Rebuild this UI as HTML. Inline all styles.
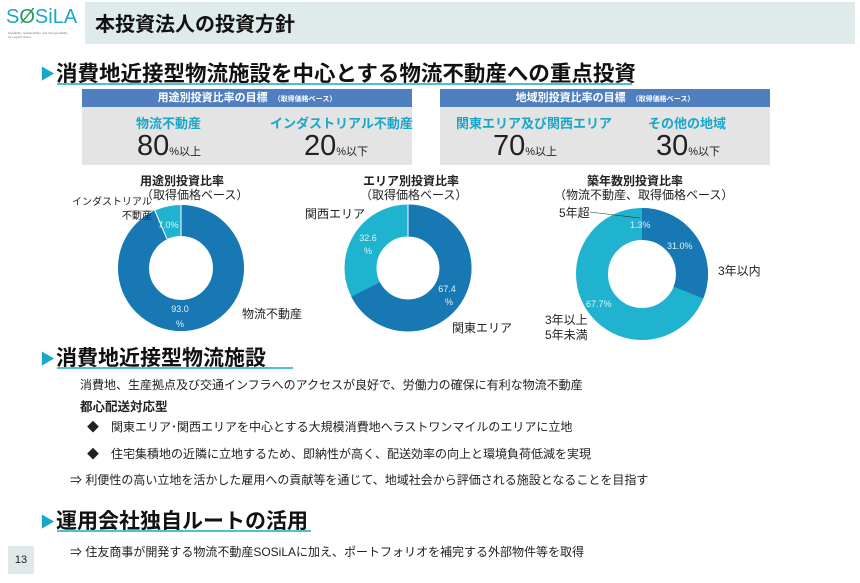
<!DOCTYPE html>
<html><head><meta charset="utf-8"><style>
*{margin:0;padding:0;box-sizing:border-box}
body{width:860px;height:583px;background:#fff;position:relative;overflow:hidden;font-family:"Liberation Sans","Noto Sans CJK JP",sans-serif;color:#222}
.a{position:absolute;white-space:nowrap}
.hd{font-weight:bold;font-size:21px;color:#111}
.tri{color:#1aa6c9;font-size:15px}
.ul{position:absolute;height:2px;background:#4fc0d0}
.box{position:absolute;background:#e4e4e4}
.bh{position:absolute;left:0;right:0;top:0;height:18px;background:#4f7fbf;color:#fff;font-size:11px;font-weight:bold;text-align:center;line-height:18px}
.bh small{font-size:7px;font-weight:bold;margin-left:6px}
.lab{color:#1aa6c9;font-weight:bold;font-size:13px}
.big{font-size:29px;color:#222}
.big small{font-size:11px}
.t{font-size:12px;color:#222}
</style></head><body>
<div class="box" style="left:85px;top:2px;width:770px;height:42px;background:#dfeaeb"></div>
<div class="a" style="left:6px;top:6px;font-size:20px;color:#1aa6c9">S<span style="color:#2a9a5a">Ø</span>SiLA</div>
<div class="a" style="left:8px;top:31px;font-size:3px;color:#777">Sociability, Sustainability, and Interoperability<br>for Logistic Asset</div>
<div class="a" style="left:95px;top:8px;font-size:20px;font-weight:bold;color:#111">本投資法人の投資方針</div>

<div class="a tri" style="left:40px;top:63px">▶</div>
<div class="a hd" style="left:56px;top:57px;font-size:21.5px">消費地近接型物流施設を中心とする物流不動産への重点投資</div>
<div class="ul" style="left:57px;top:83px;width:575px"></div>

<div class="box" style="left:82px;top:89px;width:330px;height:76px"><div class="bh">用途別投資比率の目標<small>（取得価格ベース）</small></div>
<div class="a lab" style="left:54px;top:24px">物流不動産</div><div class="a lab" style="left:188px;top:24px">インダストリアル不動産</div>
<div class="a big" style="left:55px;top:41px">80<small>%以上</small></div><div class="a big" style="left:222px;top:41px">20<small>%以下</small></div></div>
<div class="box" style="left:440px;top:89px;width:330px;height:76px"><div class="bh">地域別投資比率の目標<small>（取得価格ベース）</small></div>
<div class="a lab" style="left:16px;top:24px">関東エリア及び関西エリア</div><div class="a lab" style="left:208px;top:24px">その他の地域</div>
<div class="a big" style="left:53px;top:41px">70<small>%以上</small></div><div class="a big" style="left:216px;top:41px">30<small>%以下</small></div></div>

<div class="a" style="left:140px;top:172px;font-size:12px;font-weight:bold">用途別投資比率</div>
<div class="a" style="left:141px;top:186px;font-size:12px">（取得価格ベース）</div>
<div class="a" style="left:363px;top:172px;font-size:12px;font-weight:bold">エリア別投資比率</div>
<div class="a" style="left:360px;top:186px;font-size:12px">（取得価格ベース）</div>
<div class="a" style="left:587px;top:172px;font-size:12px;font-weight:bold">築年数別投資比率</div>
<div class="a" style="left:554px;top:186px;font-size:12px">（物流不動産、取得価格ベース）</div>

<svg class="a" style="left:0;top:0" width="860" height="583">
<g transform="rotate(-90 181 268)">
<circle cx="181" cy="268" r="47.5" fill="none" stroke="#1fb3cf" stroke-width="31"/>
<circle cx="181" cy="268" r="47.5" fill="none" stroke="#1878b4" stroke-width="31" stroke-dasharray="277.6 400"/>
</g>
<line x1="181" y1="236" x2="181" y2="205" stroke="#fff" stroke-width="1"/>
<line x1="167" y1="239" x2="155" y2="211" stroke="#fff" stroke-width="1"/>
<line x1="128" y1="211" x2="154" y2="211" stroke="#333" stroke-width="0.6"/>
<g transform="rotate(-90 408 268)">
<circle cx="408" cy="268" r="47.5" fill="none" stroke="#1fb3cf" stroke-width="32"/>
<circle cx="408" cy="268" r="47.5" fill="none" stroke="#1878b4" stroke-width="32" stroke-dasharray="201.2 400"/>
</g>
<line x1="408" y1="236" x2="408" y2="204" stroke="#fff" stroke-width="1"/>
<g transform="rotate(-90 642 274)">
<circle cx="642" cy="274" r="50" fill="none" stroke="#1fb3cf" stroke-width="32"/>
<circle cx="642" cy="274" r="50" fill="none" stroke="#1878b4" stroke-width="32" stroke-dasharray="97.4 400"/>
<circle cx="642" cy="274" r="50" fill="none" stroke="#a6dde3" stroke-width="32" stroke-dasharray="4.1 400" stroke-dashoffset="4.1"/>
</g>
<line x1="590" y1="212" x2="640" y2="218" stroke="#333" stroke-width="0.6"/>
<g font-family="Liberation Sans, sans-serif" font-size="9" fill="#dff4f8">
<text x="158" y="228">7.0%</text>
<text x="180" y="312" text-anchor="middle">93.0</text><text x="180" y="327" text-anchor="middle">%</text>
<text x="368" y="241" text-anchor="middle">32.6</text><text x="368" y="254" text-anchor="middle">%</text>
<text x="447" y="292" text-anchor="middle">67.4</text><text x="449" y="305" text-anchor="middle">%</text>
<text x="630" y="228">1.3%</text>
<text x="667" y="249">31.0%</text>
<text x="586" y="307">67.7%</text>
</g>
</svg>
<div class="a" style="left:72px;top:196px;font-size:10px;line-height:14px;text-align:right">インダストリアル<br>不動産</div>
<div class="a" style="left:242px;top:305px;font-size:12px">物流不動産</div>
<div class="a" style="left:305px;top:205px;font-size:12px">関西エリア</div>
<div class="a" style="left:452px;top:319px;font-size:12px">関東エリア</div>
<div class="a" style="left:559px;top:204px;font-size:12px">5年超</div>
<div class="a" style="left:718px;top:262px;font-size:12px">3年以内</div>
<div class="a" style="left:545px;top:313px;font-size:12px;line-height:15px">3年以上<br>5年未満</div>

<div class="a tri" style="left:40px;top:348px">▶</div>
<div class="a hd" style="left:56px;top:342px">消費地近接型物流施設</div>
<div class="ul" style="left:57px;top:367px;width:236px"></div>
<div class="a t" style="left:80px;top:376px">消費地、生産拠点及び交通インフラへのアクセスが良好で、労働力の確保に有利な物流不動産</div>
<div class="a t" style="left:80px;top:396px;font-weight:bold;font-size:12.5px">都心配送対応型</div>
<div class="a t" style="left:87px;top:418px">◆　関東エリア･関西エリアを中心とする大規模消費地へラストワンマイルのエリアに立地</div>
<div class="a t" style="left:87px;top:445px">◆　住宅集積地の近隣に立地するため、即納性が高く、配送効率の向上と環境負荷低減を実現</div>
<div class="a t" style="left:70px;top:471px">⇒  利便性の高い立地を活かした雇用への貢献等を通じて、地域社会から評価される施設となることを目指す</div>

<div class="a tri" style="left:40px;top:511px">▶</div>
<div class="a hd" style="left:56px;top:505px">運用会社独自ルートの活用</div>
<div class="ul" style="left:57px;top:530px;width:254px"></div>
<div class="a t" style="left:70px;top:543px">⇒  住友商事が開発する物流不動産SOSiLAに加え、ポートフォリオを補完する外部物件等を取得</div>
<div class="box" style="left:8px;top:546px;width:26px;height:28px;background:#dfe9ea;font-size:11px;text-align:center;line-height:28px">13</div>
</body></html>
